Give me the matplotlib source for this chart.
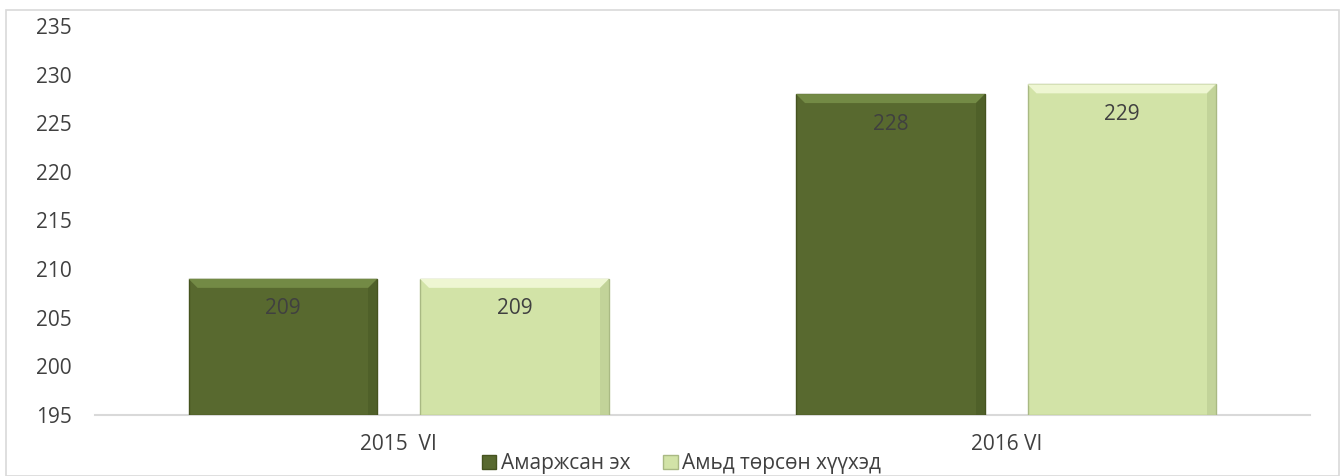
import numpy as np
import matplotlib
matplotlib.use("Agg")
import matplotlib.pyplot as plt
from matplotlib.patches import Rectangle, Polygon

# data
categories = ["2015  VI", "2016 VI"]
series_names = ["Амаржсан эх", "Амьд төрсөн хүүхэд"]
mothers = [209, 228]
children = [209, 229]

plt.rcParams["font.family"] = ["Open Sans", "DejaVu Sans"]

fig = plt.figure(figsize=(13.43, 4.76), dpi=100)
ax = fig.add_axes([95 / 1343, 1 - 415 / 476, (1310 - 95) / 1343, (415 - 26) / 476])
ax.set_xlim(-0.5, 1.5)
ax.set_ylim(195, 235)

x = np.arange(len(categories))
w = 0.311
colors = ["#58692F", "#D2E3A7"]
edges = ["#45531F", "#A9B983"]
tops = ["#738A45", "#EEF6D2"]
sides = ["#4A5A26", "#B8C991"]

# bevel size in data units (about 9 px)
bx = 9 * 2.0 / (1310 - 95)
by = 9 * 40.0 / (415 - 26)

for i, vals in enumerate([mothers, children]):
    off = (-0.5 if i == 0 else 0.5) * (w + 0.07)
    bars = ax.bar(x + off, np.array(vals) - 195, w, bottom=195, color=colors[i],
                  edgecolor=edges[i], linewidth=1.0, label=series_names[i], zorder=3)
    for b, v in zip(bars, vals):
        x0, x1 = b.get_x(), b.get_x() + b.get_width()
        y1 = b.get_y() + b.get_height()
        ax.add_patch(Polygon([(x0, y1), (x1, y1), (x1 - bx, y1 - by), (x0 + bx, y1 - by)],
                             closed=True, facecolor=tops[i], edgecolor="none", zorder=4))
        ax.add_patch(Polygon([(x1, y1), (x1, 195), (x1 - bx, 195), (x1 - bx, y1 - by)],
                             closed=True, facecolor=sides[i], edgecolor="none", zorder=4, alpha=0.6))
        ax.annotate(str(v), ((x0 + x1) / 2, y1), xytext=(0, -30), textcoords="offset pixels",
                    ha="center", va="center", fontsize=15, color="#404040", zorder=5)

ax.set_yticks(range(195, 236, 5))
ax.set_xticks(x)
ax.set_xticklabels(categories)
ax.tick_params(axis="both", length=0, labelsize=15, labelcolor="#404040")
ax.tick_params(axis="y", pad=16.5)
ax.tick_params(axis="x", pad=14)
for s in ["top", "right", "left"]:
    ax.spines[s].set_visible(False)
ax.spines["bottom"].set_color("#D9D9D9")
ax.spines["bottom"].set_linewidth(1.5)

leg = fig.legend(loc="lower center", bbox_to_anchor=(0.5 + 10 / 1343, -0.036), ncol=2, frameon=False,
                 fontsize=15, handlelength=0.7, handleheight=0.7, handletextpad=0.2,
                 columnspacing=1.6)
for t in leg.get_texts():
    t.set_color("#404040")

# outer chart border
fig.patches.append(Rectangle((6 / 1343, 0), 1333 / 1343, 1 - 10 / 476, transform=fig.transFigure,
                             fill=False, edgecolor="#D9D9D9", linewidth=1.2))

fig.savefig("out.png", dpi=100)
